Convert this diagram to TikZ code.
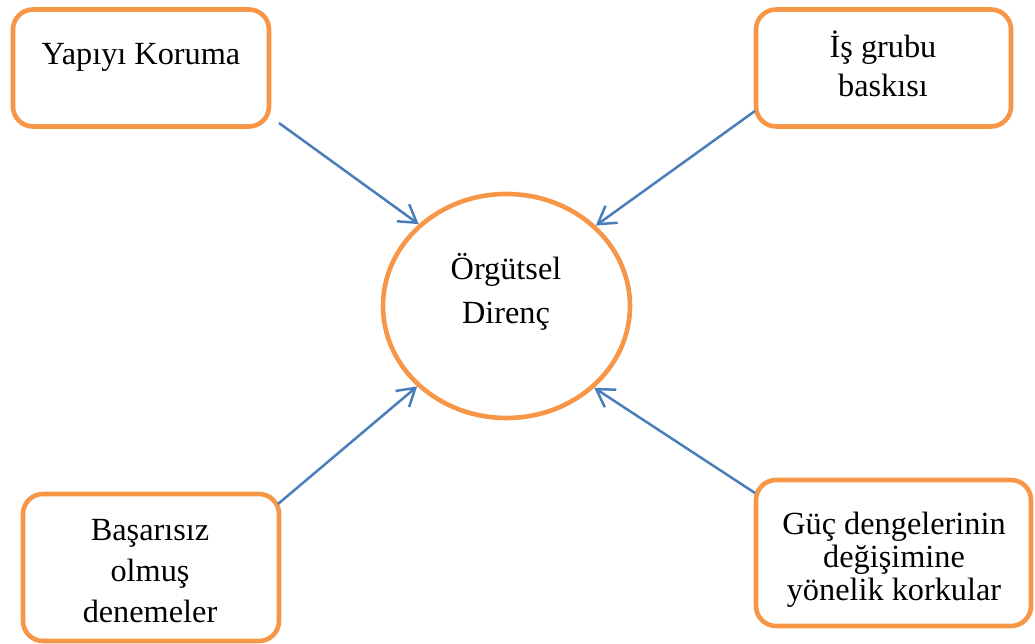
\documentclass[tikz,border=0pt]{standalone}
\usepackage{fontspec}
\setmainfont{Liberation Serif}
\usetikzlibrary{arrows.meta,shapes.geometric}
\definecolor{borange}{HTML}{F79646}
\definecolor{ablue}{HTML}{4A7EBB}
\begin{document}
\begin{tikzpicture}[x=1pt,y=1pt,
  box/.style={draw=borange, line width=4.6pt, rounded corners=20pt, inner sep=0pt},
  hub/.style={draw=borange, line width=4.6pt, ellipse, inner sep=0pt, minimum width=247pt, minimum height=224pt},
  txt/.style={align=center, inner sep=0pt, anchor=base},
  arr/.style={draw=ablue, line width=2.5pt, -{Straight Barb[length=17pt,width=21pt]}}]
\useasboundingbox (0,0) rectangle (1035,644);

% boxes
\node[box, minimum width=256pt, minimum height=117pt] (tl) at (141,576) {};
\node[box, minimum width=255pt, minimum height=117pt] (tr) at (883.5,576) {};
\node[box, minimum width=256pt, minimum height=147pt] (bl) at (151,76.5) {};
\node[box, minimum width=275pt, minimum height=146pt] (br) at (893.5,91) {};
\node[hub] (c) at (506.5,338) {};

% texts (base anchor = baseline of the last line)
\node[txt, font=\fontsize{32.3}{39}\selectfont] (ttl) at (141,579) {Yapıyı Koruma};
\node[txt, font=\fontsize{32.3}{39}\selectfont] (ttr) at (883,547) {İş grubu\\baskısı};
\node[txt, font=\fontsize{32.3}{41}\selectfont] (tbl) at (150,21) {Başarısız\\olmuş\\denemeler};
\node[txt, font=\fontsize{32.3}{33}\selectfont] (tbr) at (894,43) {Güç dengelerinin\\değişimine\\yönelik korkular};
\node[txt, font=\fontsize{32.3}{44}\selectfont] (tc) at (506,320) {Örgütsel\\Direnç};

% connector start points
\coordinate (s1) at (279,521);
\coordinate (s2) at (755,533);
\coordinate (s3) at (278,140);
\coordinate (s4) at (755,151);

\draw[arr] (s1) -- (c.137.9);
\draw[arr] (s2) -- (c.42.4);
\draw[arr] (s3) -- (c.222);
\draw[arr] (s4) -- (c.-43.1);
\end{tikzpicture}
\end{document}
